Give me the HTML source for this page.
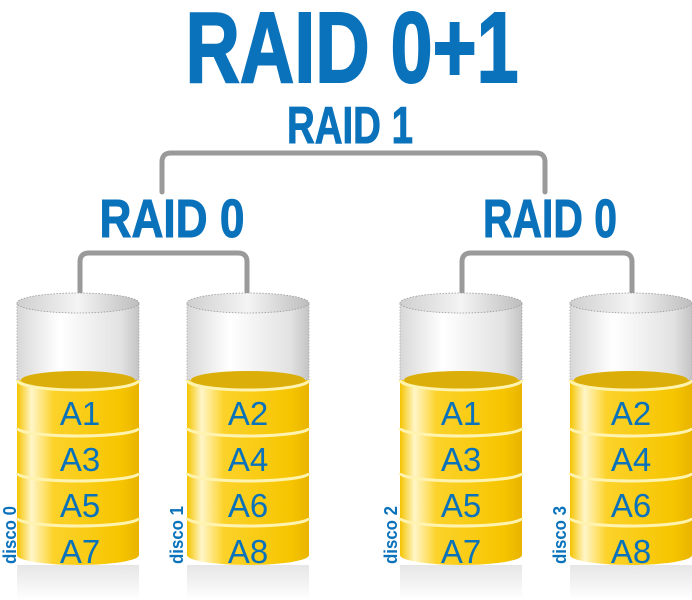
<!DOCTYPE html>
<html><head><meta charset="utf-8"><style>html,body{margin:0;padding:0;background:#fff}svg{display:block}</style></head>
<body>
<svg width="692" height="600" viewBox="0 0 692 600" xmlns="http://www.w3.org/2000/svg" font-family="Liberation Sans, sans-serif">
<defs>
<linearGradient id="gy" x1="0" x2="1" y1="0" y2="0">
<stop offset="0" stop-color="#f5c400"/><stop offset="0.12" stop-color="#fff6c8"/><stop offset="0.3" stop-color="#fcd22a"/><stop offset="0.85" stop-color="#f6c500"/><stop offset="1" stop-color="#e9b400"/>
</linearGradient>
<linearGradient id="gg" x1="0" x2="1" y1="0" y2="0">
<stop offset="0" stop-color="#d8d8d8"/><stop offset="0.35" stop-color="#ffffff"/><stop offset="0.85" stop-color="#e2e2e2"/><stop offset="1" stop-color="#c4c4c4"/>
</linearGradient>
<linearGradient id="gt" x1="0" x2="1" y1="0" y2="0">
<stop offset="0" stop-color="#cfcfcf"/><stop offset="0.5" stop-color="#f4f4f4"/><stop offset="1" stop-color="#bdbdbd"/>
</linearGradient>
<linearGradient id="gr" x1="0" x2="0" y1="0" y2="1">
<stop offset="0" stop-color="#e6e6e6"/><stop offset="1" stop-color="#ffffff"/>
</linearGradient>
<g id="cyl">
<rect x="0" y="565" width="122" height="35" fill="url(#gr)"/>
<rect x="0" y="303" width="122" height="77" fill="url(#gg)" stroke="#aaa" stroke-dasharray="1.5,1.5" stroke-width="0.8"/>
<ellipse cx="61" cy="303" rx="61" ry="10" fill="url(#gt)" stroke="#999" stroke-dasharray="1.5,1.5" stroke-width="0.8"/>
<path d="M0 380 L0 555 A61 10 0 0 0 122 555 L122 380 Z" fill="url(#gy)"/>
<ellipse cx="61" cy="380" rx="57" ry="9" fill="#dcae0a"/>
<path d="M0 380 A61 10 0 0 0 122 380" fill="none" stroke="#fff3b0" stroke-width="3"/>
<path d="M0 428 A61 8 0 0 0 122 428" fill="none" stroke="#fff3b0" stroke-width="3"/>
<path d="M0 473 A61 8 0 0 0 122 473" fill="none" stroke="#fff3b0" stroke-width="3"/>
<path d="M0 518 A61 8 0 0 0 122 518" fill="none" stroke="#fff3b0" stroke-width="3"/>
</g>
</defs>
<text x="352" y="82" font-size="100" font-weight="bold" fill="#0a72bb" stroke="#0a72bb" stroke-width="2" text-anchor="middle" textLength="333" lengthAdjust="spacingAndGlyphs">RAID 0+1</text>
<text x="350" y="143" font-size="52" font-weight="bold" fill="#0a72bb" stroke="#0a72bb" stroke-width="1" text-anchor="middle" textLength="126" lengthAdjust="spacingAndGlyphs">RAID 1</text>
<text x="172" y="237" font-size="54" font-weight="bold" fill="#0a72bb" stroke="#0a72bb" stroke-width="1" text-anchor="middle" textLength="145" lengthAdjust="spacingAndGlyphs">RAID 0</text>
<text x="550" y="237" font-size="54" font-weight="bold" fill="#0a72bb" stroke="#0a72bb" stroke-width="1" text-anchor="middle" textLength="134" lengthAdjust="spacingAndGlyphs">RAID 0</text>
<g fill="none" stroke="#9a9a9a" stroke-width="5" stroke-linecap="round" stroke-linejoin="round">
<path d="M162 192 V162 Q162 153 171 153 H536 Q545 153 545 162 V192"/>
<path d="M80 300 V262 Q80 253 89 253 H238 Q247 253 247 262 V300"/>
<path d="M462 300 V262 Q462 253 471 253 H623 Q632 253 632 262 V300"/>
</g>
<use href="#cyl" x="17"/>
<use href="#cyl" x="187"/>
<use href="#cyl" x="400"/>
<use href="#cyl" x="570"/>
<g font-size="33" fill="#0a72bb" text-anchor="middle">
<text x="80" y="425">A1</text><text x="80" y="471">A3</text><text x="80" y="517">A5</text><text x="80" y="563">A7</text>
<text x="248" y="425">A2</text><text x="248" y="471">A4</text><text x="248" y="517">A6</text><text x="248" y="563">A8</text>
<text x="461" y="425">A1</text><text x="461" y="471">A3</text><text x="461" y="517">A5</text><text x="461" y="563">A7</text>
<text x="631" y="425">A2</text><text x="631" y="471">A4</text><text x="631" y="517">A6</text><text x="631" y="563">A8</text>
</g>
<g font-size="18" font-weight="bold" fill="#0a72bb">
<text transform="translate(16,564) rotate(-90)" textLength="58" lengthAdjust="spacingAndGlyphs">disco 0</text>
<text transform="translate(183,564) rotate(-90)" textLength="58" lengthAdjust="spacingAndGlyphs">disco 1</text>
<text transform="translate(397,564) rotate(-90)" textLength="58" lengthAdjust="spacingAndGlyphs">disco 2</text>
<text transform="translate(566,564) rotate(-90)" textLength="58" lengthAdjust="spacingAndGlyphs">disco 3</text>
</g>
</svg>
</body></html>
